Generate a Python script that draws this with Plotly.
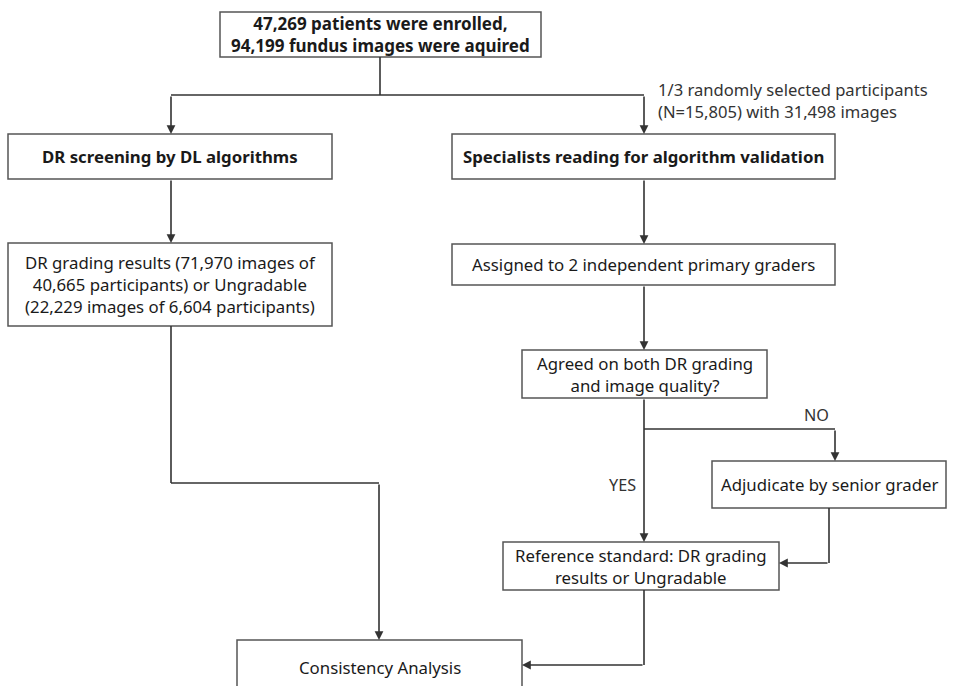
import plotly.graph_objects as go

# ---- content ----
box_texts = [
    "<b>47,269 patients were enrolled,<br>94,199 fundus images were aquired</b>",
    "<b>DR screening by DL algorithms</b>",
    "DR grading results (71,970 images of<br>40,665 participants) or Ungradable<br>(22,229 images of 6,604 participants)",
    "<b>Specialists reading for algorithm validation</b>",
    "Assigned to 2 independent primary graders",
    "Agreed on both DR grading<br>and image quality?",
    "Adjudicate by senior grader",
    "Reference standard: DR grading<br>results or Ungradable",
    "Consistency Analysis",
]
side_note = "1/3 randomly selected participants<br>(N=15,805) with 31,498 images"
branch_labels = ["NO", "YES"]

# ---- layout geometry (pixels, y downward) ----
box_geom = [
    (220, 541, 12, 57),
    (8, 332, 134, 179),
    (8, 332, 243, 326),
    (452, 835, 134, 179),
    (452, 835, 244, 285),
    (522, 767, 350, 398),
    (712, 946, 461, 508),
    (503, 779, 542, 590),
    (237, 522, 640, 720),
]
box_font = [17, 16.8, 16.8, 16.8, 16.8, 16.8, 16.8, 16.8, 16.8]
text_y_override = {8: 667}

plain_lines = [
    ((380, 57), (380, 95)),
    ((171, 95), (644, 95)),
    ((644, 429), (835, 429)),
    ((829, 508), (829, 563)),
    ((171, 326), (171, 483)),
    ((171, 483), (379, 483)),
    ((644, 590), (644, 665)),
]
arrows = [
    ((171, 95), (171, 134)),
    ((644, 95), (644, 134)),
    ((171, 179), (171, 243)),
    ((644, 179), (644, 244)),
    ((644, 285), (644, 350)),
    ((644, 398), (644, 542)),
    ((835, 429), (835, 461)),
    ((829, 563), (779, 563)),
    ((379, 483), (379, 640)),
    ((644, 665), (522, 665)),
]

FONT = "Noto Sans, DejaVu Sans, sans-serif"
LINE = "#333333"
TXT = "#1a1a1a"

fig = go.Figure()
fig.add_trace(go.Scatter(x=[0, 955], y=[0, 686], mode="markers",
                         marker=dict(opacity=0), hoverinfo="skip", showlegend=False))

shapes = []
annotations = []
for txt, (x0, x1, y0, y1) in zip(box_texts, box_geom):
    shapes.append(dict(type="rect", x0=x0, x1=x1, y0=y0, y1=y1,
                       line=dict(color="#555555", width=1.5), fillcolor="white", layer="below"))
for i, (txt, (x0, x1, y0, y1)) in enumerate(zip(box_texts, box_geom)):
    cy = text_y_override.get(i, (y0 + y1) / 2)
    annotations.append(dict(x=(x0 + x1) / 2, y=cy, text=txt, showarrow=False,
                            font=dict(family=FONT, size=box_font[i], color=TXT),
                            align="center", xanchor="center", yanchor="middle"))

for (a, b) in plain_lines:
    shapes.append(dict(type="line", x0=a[0], y0=a[1], x1=b[0], y1=b[1],
                       line=dict(color=LINE, width=1.6)))
for (a, b) in arrows:
    annotations.append(dict(x=b[0], y=b[1], ax=a[0], ay=a[1], xref="x", yref="y",
                            axref="x", ayref="y", text="", showarrow=True,
                            arrowhead=2, arrowsize=1.1, arrowwidth=1.6,
                            arrowcolor=LINE, standoff=0, startstandoff=0))

annotations.append(dict(x=656, y=100, text=side_note, showarrow=False, align="left",
                        xanchor="left", yanchor="middle",
                        font=dict(family=FONT, size=16.6, color="#333333")))
annotations.append(dict(x=816, y=415, text=branch_labels[0], showarrow=False,
                        font=dict(family=FONT, size=16.2, color="#333333")))
annotations.append(dict(x=638, y=485, text=branch_labels[1], showarrow=False,
                        xanchor="right",
                        font=dict(family=FONT, size=16.2, color="#333333")))

fig.update_layout(
    width=955, height=686,
    margin=dict(l=0, r=0, t=0, b=0),
    paper_bgcolor="white", plot_bgcolor="white",
    xaxis=dict(range=[0, 955], visible=False, fixedrange=True),
    yaxis=dict(range=[686, 0], visible=False, fixedrange=True),
    shapes=shapes, annotations=annotations, showlegend=False,
)
fig.write_html("out.html", config={"displayModeBar": False},
               post_script="document.body.style.margin='0';")
